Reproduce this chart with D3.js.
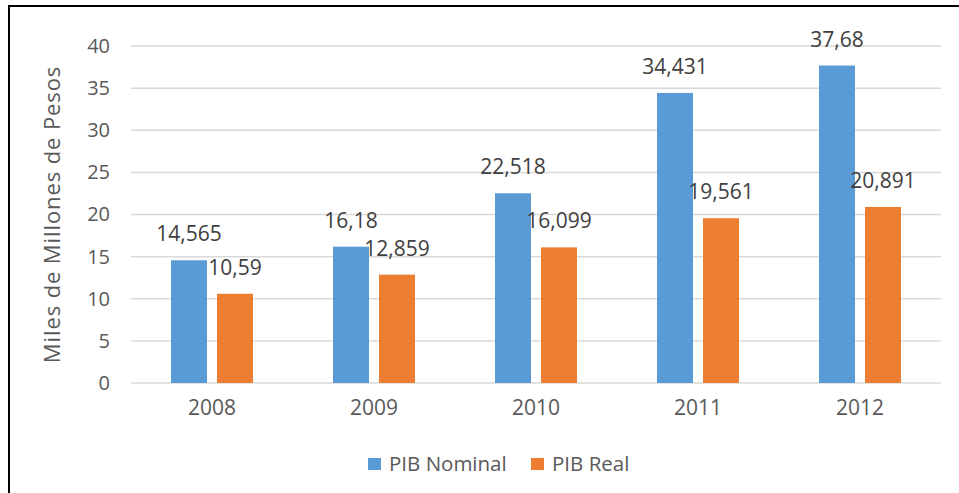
<!DOCTYPE html>
<html>
<head>
<meta charset="utf-8">
<script src="https://d3js.org/d3.v7.min.js"></script>
<style>
  body { margin: 0; background: #fff; }
  svg { display: block; font-family: "Open Sans", sans-serif; }
</style>
</head>
<body>
<div id="chart"></div>
<script>
// Datos del gráfico
const years = ["2008", "2009", "2010", "2011", "2012"];
const pibNominal = [14.565, 16.18, 22.518, 34.431, 37.68];
const pibReal = [10.59, 12.859, 16.099, 19.561, 20.891];
const nominalLabels = ["14,565", "16,18", "22,518", "34,431", "37,68"];
const realLabels = ["10,59", "12,859", "16,099", "19,561", "20,891"];
const yTicks = [0, 5, 10, 15, 20, 25, 30, 35, 40];
const seriesNames = ["PIB Nominal", "PIB Real"];
const colors = ["#5B9BD5", "#ED7D31"];

const width = 959, height = 493;
const margin = {left: 131, right: 18, top: 46, bottom: 110};

const svg = d3.select('#chart').append('svg')
    .attr('width', width)
    .attr('height', height);

// borde (solo arriba e izquierda quedan visibles)
svg.append('path')
    .attr('d', `M9,${height} L9,6 L${width},6`)
    .attr('fill', 'none')
    .attr('stroke', '#000')
    .attr('stroke-width', 2);

const x = d3.scaleBand()
    .domain(years)
    .range([margin.left, width - margin.right]);

const y = d3.scaleLinear()
    .domain([0, 40])
    .range([height - margin.bottom, margin.top]);

const barW = 36, gap = 10;
const inner = d3.scaleBand()
    .domain([0, 1])
    .range([0, barW * 2 + gap])
    .paddingInner(gap / (barW + gap));

// gridlines
svg.append('g')
    .selectAll('line')
    .data(yTicks)
    .join('line')
    .attr('x1', margin.left)
    .attr('x2', width - margin.right)
    .attr('y1', d => y(d))
    .attr('y2', d => y(d))
    .attr('stroke', '#D9D9D9')
    .attr('stroke-width', 1.5);

// y axis labels
const yAxis = svg.append('g')
    .attr('transform', `translate(${margin.left - 21},0)`)
    .call(d3.axisLeft(y).tickValues(yTicks).tickSize(0).tickPadding(0));
yAxis.select('.domain').remove();
yAxis.selectAll('text')
    .style('font-size', '20px')
    .style('font-family', '"Open Sans", sans-serif')
    .attr('fill', '#595959');

// x axis labels
const xAxis = svg.append('g')
    .attr('transform', `translate(0,${y(0)})`)
    .call(d3.axisBottom(x).tickSize(0).tickPadding(17));
xAxis.select('.domain').remove();
xAxis.selectAll('text')
    .style('font-size', '21px')
    .style('font-family', '"Open Sans", sans-serif')
    .attr('fill', '#595959');

// axis title
svg.append('text')
    .attr('transform', `translate(60,${(y(0) + y(40)) / 2}) rotate(-90)`)
    .attr('text-anchor', 'middle')
    .style('font-size', '22px')
    .style('letter-spacing', '0.9px')
    .attr('fill', '#595959')
    .text('Miles de Millones de Pesos');

const series = [pibNominal, pibReal];
const labels = [nominalLabels, realLabels];

series.forEach((vals, s) => {
    const off = (x.bandwidth() - (barW * 2 + gap)) / 2;
    const g = svg.append('g');
    g.selectAll('rect')
        .data(vals)
        .join('rect')
        .attr('x', (d, i) => x(years[i]) + off + inner(s))
        .attr('y', d => y(d))
        .attr('width', inner.bandwidth())
        .attr('height', d => y(0) - y(d))
        .attr('fill', colors[s]);
    g.selectAll('text')
        .data(vals)
        .join('text')
        .attr('x', (d, i) => x(years[i]) + off + inner(s) + inner.bandwidth() / 2)
        .attr('y', d => y(d) - 19)
        .attr('text-anchor', 'middle')
        .style('font-size', '21px')
        .attr('fill', '#404040')
        .text((d, i) => labels[s][i]);
});

// legend
const legendX = [368, 531];
const legend = svg.append('g');
seriesNames.forEach((name, i) => {
    legend.append('rect')
        .attr('x', legendX[i])
        .attr('y', 458)
        .attr('width', 13)
        .attr('height', 12)
        .attr('fill', colors[i]);
    legend.append('text')
        .attr('x', legendX[i] + 21)
        .attr('y', 471)
        .style('font-size', '20.5px')
        .attr('fill', '#595959')
        .text(name);
});
</script>
</body>
</html>
